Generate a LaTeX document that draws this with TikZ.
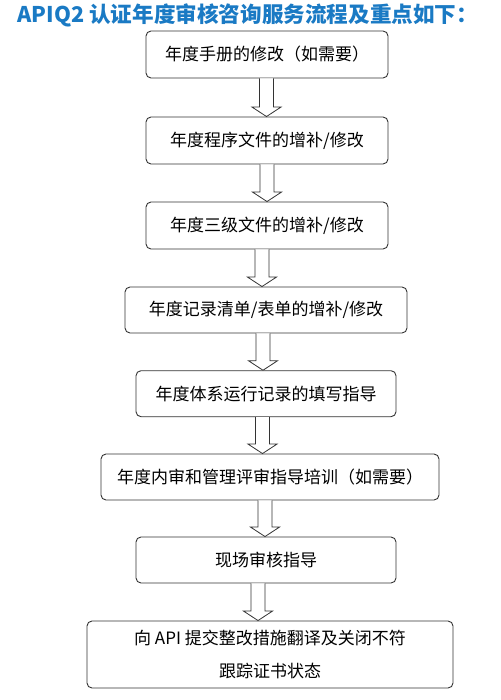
\documentclass[tikz,border=0pt]{standalone}
\usepackage{fontspec}
\setmainfont{Noto Sans CJK SC}
\newfontfamily\cjk{Noto Sans CJK SC}
\usetikzlibrary{calc}
\definecolor{titleblue}{HTML}{1A7AC4}
\definecolor{linegray}{HTML}{333333}
\tikzset{
  stepbox/.style={draw=linegray, line width=0.9pt, rounded corners=5pt, fill=white,
    align=center, font=\cjk\fontsize{17}{33}\selectfont, inner sep=0pt},
  harrow/.style={draw=linegray, line width=0.8pt, fill=white, line join=miter},
}
% #1 upper node, #2 lower node, #3 x position of arrow axis
\newcommand{\hollowarrow}[3]{%
  \draw[harrow] let \p1=(#1.south), \p2=(#2.north) in
    (#3pt-7pt,\y1) -- (#3pt-7pt,\y2+9.5pt) -- (#3pt-14.5pt,\y2+9.5pt) -- (#3pt,\y2)
    -- (#3pt+14.5pt,\y2+9.5pt) -- (#3pt+7pt,\y2+9.5pt) -- (#3pt+7pt,\y1);
}
\begin{document}
\begin{tikzpicture}[x=1pt,y=-1pt]
\useasboundingbox (0,0) rectangle (500,700);
\node[font=\cjk\bfseries\fontsize{21.6}{24}\selectfont, text=titleblue, anchor=west] (title) at (14,15) {APIQ2 认证年度审核咨询服务流程及重点如下：};
\node[stepbox, minimum width=242pt, minimum height=47pt] (b1) at (267,54.5) {年度手册的修改（如需要）};
\node[stepbox, minimum width=242pt, minimum height=47pt] (b2) at (267,140.5) {年度程序文件的增补/修改};
\node[stepbox, minimum width=242pt, minimum height=47pt] (b3) at (267,225.5) {年度三级文件的增补/修改};
\node[stepbox, minimum width=282pt, minimum height=46pt] (b4) at (266,310) {年度记录清单/表单的增补/修改};
\node[stepbox, minimum width=260pt, minimum height=46pt] (b5) at (266,393.7) {年度体系运行记录的填写指导};
\node[stepbox, minimum width=338pt, minimum height=46pt] (b6) at (270,477) {年度内审和管理评审指导培训（如需要）};
\node[stepbox, minimum width=260pt, minimum height=46pt] (b7) at (266,560) {现场审核指导};
\node[stepbox, minimum width=366pt, minimum height=67pt] (b8) at (270,654.5) {向 API 提交整改措施翻译及关闭不符\\跟踪证书状态};
\hollowarrow{b1}{b2}{266.5}
\hollowarrow{b2}{b3}{267}
\hollowarrow{b3}{b4}{262}
\hollowarrow{b4}{b5}{263}
\hollowarrow{b5}{b6}{262.5}
\hollowarrow{b6}{b7}{265}
\hollowarrow{b7}{b8}{258}
\end{tikzpicture}
\end{document}
